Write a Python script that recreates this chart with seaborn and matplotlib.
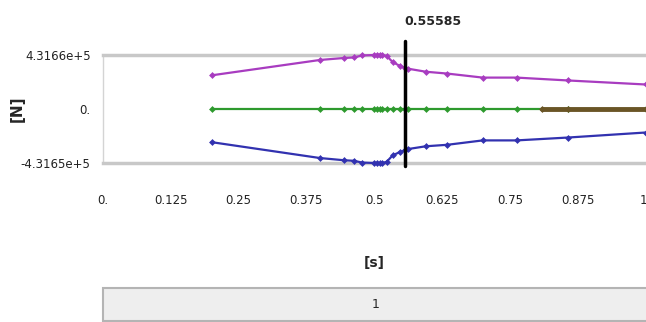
import numpy as np
import pandas as pd
import matplotlib
matplotlib.use('Agg')
import matplotlib.pyplot as plt
from matplotlib.patches import Rectangle
import seaborn as sns

# time steps [s]
time_pts = [0.2, 0.4, 0.445, 0.4625, 0.4775, 0.5, 0.505, 0.51, 0.515, 0.523,
            0.534, 0.547, 0.55585, 0.5625, 0.595, 0.635, 0.7, 0.7625, 0.8575, 1.0]
force_max = [2.69e5, 3.92e5, 4.08e5, 4.12e5, 4.28e5, 4.3166e5, 4.3166e5, 4.3166e5, 4.3166e5, 4.24e5,
             3.75e5, 3.45e5, 3.30e5, 3.22e5, 2.98e5, 2.83e5, 2.51e5, 2.51e5, 2.28e5, 1.96e5]
force_min = [-2.65e5, -3.92e5, -4.10e5, -4.14e5, -4.28e5, -4.3165e5, -4.3165e5, -4.3165e5, -4.3165e5, -4.22e5,
             -3.70e5, -3.45e5, -3.30e5, -3.20e5, -2.98e5, -2.86e5, -2.51e5, -2.51e5, -2.28e5, -1.88e5]
force_avg = [0.0] * len(time_pts)
tail_time = [0.81, 0.8575, 1.0]
tail_force = [0.0, 0.0, 0.0]

cursor_t = 0.55585
y_ticks = [-4.3165e5, 0.0, 4.3166e5]
y_labels = ['-4.3165e+5', '0.', '4.3166e+5']
x_ticks = [0, 0.125, 0.25, 0.375, 0.5, 0.625, 0.75, 0.875, 1.0]
x_labels = ['0.', '0.125', '0.25', '0.375', '0.5', '0.625', '0.75', '0.875', '1.']

df = pd.concat([
    pd.DataFrame({'t': time_pts, 'F': force_max, 'series': 'max'}),
    pd.DataFrame({'t': time_pts, 'F': force_avg, 'series': 'avg'}),
    pd.DataFrame({'t': time_pts, 'F': force_min, 'series': 'min'}),
], ignore_index=True)
df_tail = pd.DataFrame({'t': tail_time, 'F': tail_force, 'series': 'tail'})

sns.set_style('white')
plt.rcParams['font.family'] = ['Liberation Sans Narrow', 'DejaVu Sans']

fig = plt.figure(figsize=(6.46, 3.22), dpi=100)
ax = fig.add_axes([103 / 646, 1 - 163 / 322, 542.5 / 646, 108 / 322])

palette = {'max': '#a83cc0', 'avg': '#2e9a2e', 'min': '#3232b0'}
sns.lineplot(data=df, x='t', y='F', hue='series', palette=palette, estimator=None,
             marker='D', markersize=3.5, markeredgewidth=0, linewidth=1.6,
             legend=False, ax=ax, clip_on=False, zorder=3)
sns.lineplot(data=df_tail, x='t', y='F', color='#6a5526', estimator=None,
             marker='D', markersize=3.5, markeredgewidth=0, linewidth=3.5,
             legend=False, ax=ax, zorder=3)

ax.set_xlim(0, 1.0)
ax.set_ylim(y_ticks[0], y_ticks[-1])
ax.set_xticks(x_ticks)
ax.set_xticklabels(x_labels)
ax.set_yticks(y_ticks)
ax.set_yticklabels(y_labels)
ax.tick_params(axis='both', labelsize=8.5, colors='#c4c4c4', labelcolor='#222222',
               direction='out', width=1)
ax.tick_params(axis='x', length=10, pad=12)
ax.tick_params(axis='y', length=5, pad=4)

for side in ['top', 'bottom']:
    ax.spines[side].set_color('#c8c8c8')
    ax.spines[side].set_linewidth(2.5)
ax.spines['left'].set_color('#d4d4d4')
ax.spines['left'].set_linewidth(1)
ax.spines['right'].set_visible(False)

ax.axvline(cursor_t, ymin=-0.03, ymax=1.13, color='black', lw=2.5, clip_on=False, zorder=4)
ax.text(cursor_t, 1.31, '0.55585', transform=ax.get_xaxis_transform(),
        ha='left', va='center', fontsize=9, fontweight='bold')

ax.set_xlabel('[s]', fontsize=10, fontweight='bold')
ax.xaxis.set_label_coords(0.5, -0.86)
ax.set_ylabel('[N]', fontsize=11, fontweight='bold')
ax.yaxis.set_label_coords(-0.145, 0.5)

fig.patches.append(Rectangle((103 / 646, 1 - 321 / 322), 0.9, 33 / 322, transform=fig.transFigure,
                             facecolor='#eeeeee', edgecolor='#b4b4b4', lw=1.5))
fig.text(376 / 646, 1 - 305 / 322, '1', ha='center', va='center', fontsize=9)

fig.savefig('out.png', dpi=100)
